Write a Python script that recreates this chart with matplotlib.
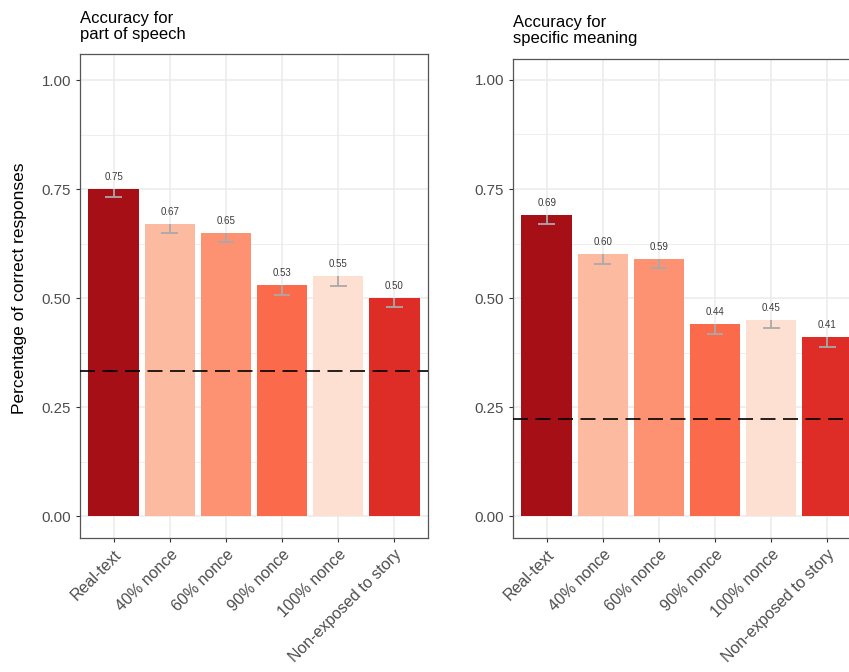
import matplotlib
matplotlib.use("Agg")
import matplotlib.pyplot as plt
from matplotlib.ticker import MultipleLocator
from matplotlib.transforms import ScaledTranslation
import numpy as np

plt.rcParams['font.family'] = ['Liberation Sans', 'DejaVu Sans']

categories = ["Real-text", "40% nonce", "60% nonce", "90% nonce", "100% nonce",
              "Non-exposed to story"]
colors = ["#A50F15", "#FCBBA1", "#FC9272", "#FB6A4A", "#FEE0D2", "#DE2D26"]

pos_means = [0.75, 0.67, 0.65, 0.53, 0.55, 0.50]
pos_se = [0.019, 0.021, 0.021, 0.023, 0.021, 0.021]
pos_chance = 1 / 3

meaning_means = [0.69, 0.60, 0.59, 0.44, 0.45, 0.41]
meaning_se = [0.021, 0.022, 0.021, 0.022, 0.018, 0.022]
meaning_chance = 2 / 9

titles = [("Accuracy for", "part of speech"), ("Accuracy for", "specific meaning")]
y_label = "Percentage of correct responses"
y_ticks = [0.0, 0.25, 0.5, 0.75, 1.0]

W, H = 849, 672
fig = plt.figure(figsize=(W / 100, H / 100), dpi=100)

panels = [
    dict(rect=(80, 54, 348, 484), means=pos_means, se=pos_se,
         chance=pos_chance, title=titles[0], ytop=1.06, title_y=(22.7, 39.5)),
    dict(rect=(513, 59, 348, 479), means=meaning_means, se=meaning_se,
         chance=meaning_chance, title=titles[1], ytop=1.048, title_y=(26.5, 43.5)),
]

grid_col = "#EBEBEB"
text_col = "#4D4D4D"
err_col = "#A9A9A9"

for i, p in enumerate(panels):
    x0, y0, w, h = p["rect"]
    ax = fig.add_axes([x0 / W, 1 - (y0 + h) / H, w / W, h / H])
    x = np.arange(len(categories))
    ax.set_xlim(-0.6, len(categories) - 0.4)
    ax.set_ylim(-0.05, p["ytop"])

    ax.yaxis.set_minor_locator(MultipleLocator(0.125))
    ax.set_yticks(y_ticks)
    ax.set_yticklabels([f"{t:.2f}" for t in y_ticks])
    ax.grid(which="major", color=grid_col, lw=1.1, zorder=0)
    ax.grid(which="minor", axis="y", color=grid_col, lw=0.6, zorder=0)
    ax.set_axisbelow(True)

    ax.bar(x, p["means"], width=0.9, color=colors, zorder=2)

    means = np.array(p["means"])
    se = np.array(p["se"])
    ax.vlines(x, means - se, means, color=err_col, lw=1.3, zorder=3)
    ax.hlines(means - se, x - 0.15, x + 0.15, color=err_col, lw=1.3, zorder=3)

    for xi, m in zip(x, means):
        ax.text(xi, m + 0.021, f"{m:.2f}", ha="center", va="baseline",
                fontsize=7, color="#3A3A3A", zorder=4)

    ax.axhline(p["chance"], color="black", lw=1.2, ls=(0, (9, 4.5)), zorder=4)

    ax.set_xticks(x)
    ax.set_xticklabels(categories, rotation=45, ha="right", va="top",
                       rotation_mode="anchor", fontsize=11.5, color=text_col)
    shift = ScaledTranslation(5 / 100, -2 / 100, fig.dpi_scale_trans)
    for lab in ax.get_xticklabels():
        lab.set_transform(lab.get_transform() + shift)
    ax.tick_params(axis="both", which="major", length=3, color="#333333",
                   labelcolor=text_col, width=0.8)
    ax.tick_params(axis="y", labelsize=10.8)
    ax.tick_params(axis="y", which="minor", length=0)
    for s in ax.spines.values():
        s.set_color("#555555")
        s.set_linewidth(0.9)

    for line, ty in zip(p["title"], p["title_y"]):
        fig.text(x0 / W, 1 - ty / H, line, ha="left", va="baseline",
                 fontsize=12, color="black")

fig.text(20 / W, 1 - 288 / H, y_label, rotation=90, ha="center", va="center",
         fontsize=12.5, color="black")

fig.savefig("out.png", dpi=100)
